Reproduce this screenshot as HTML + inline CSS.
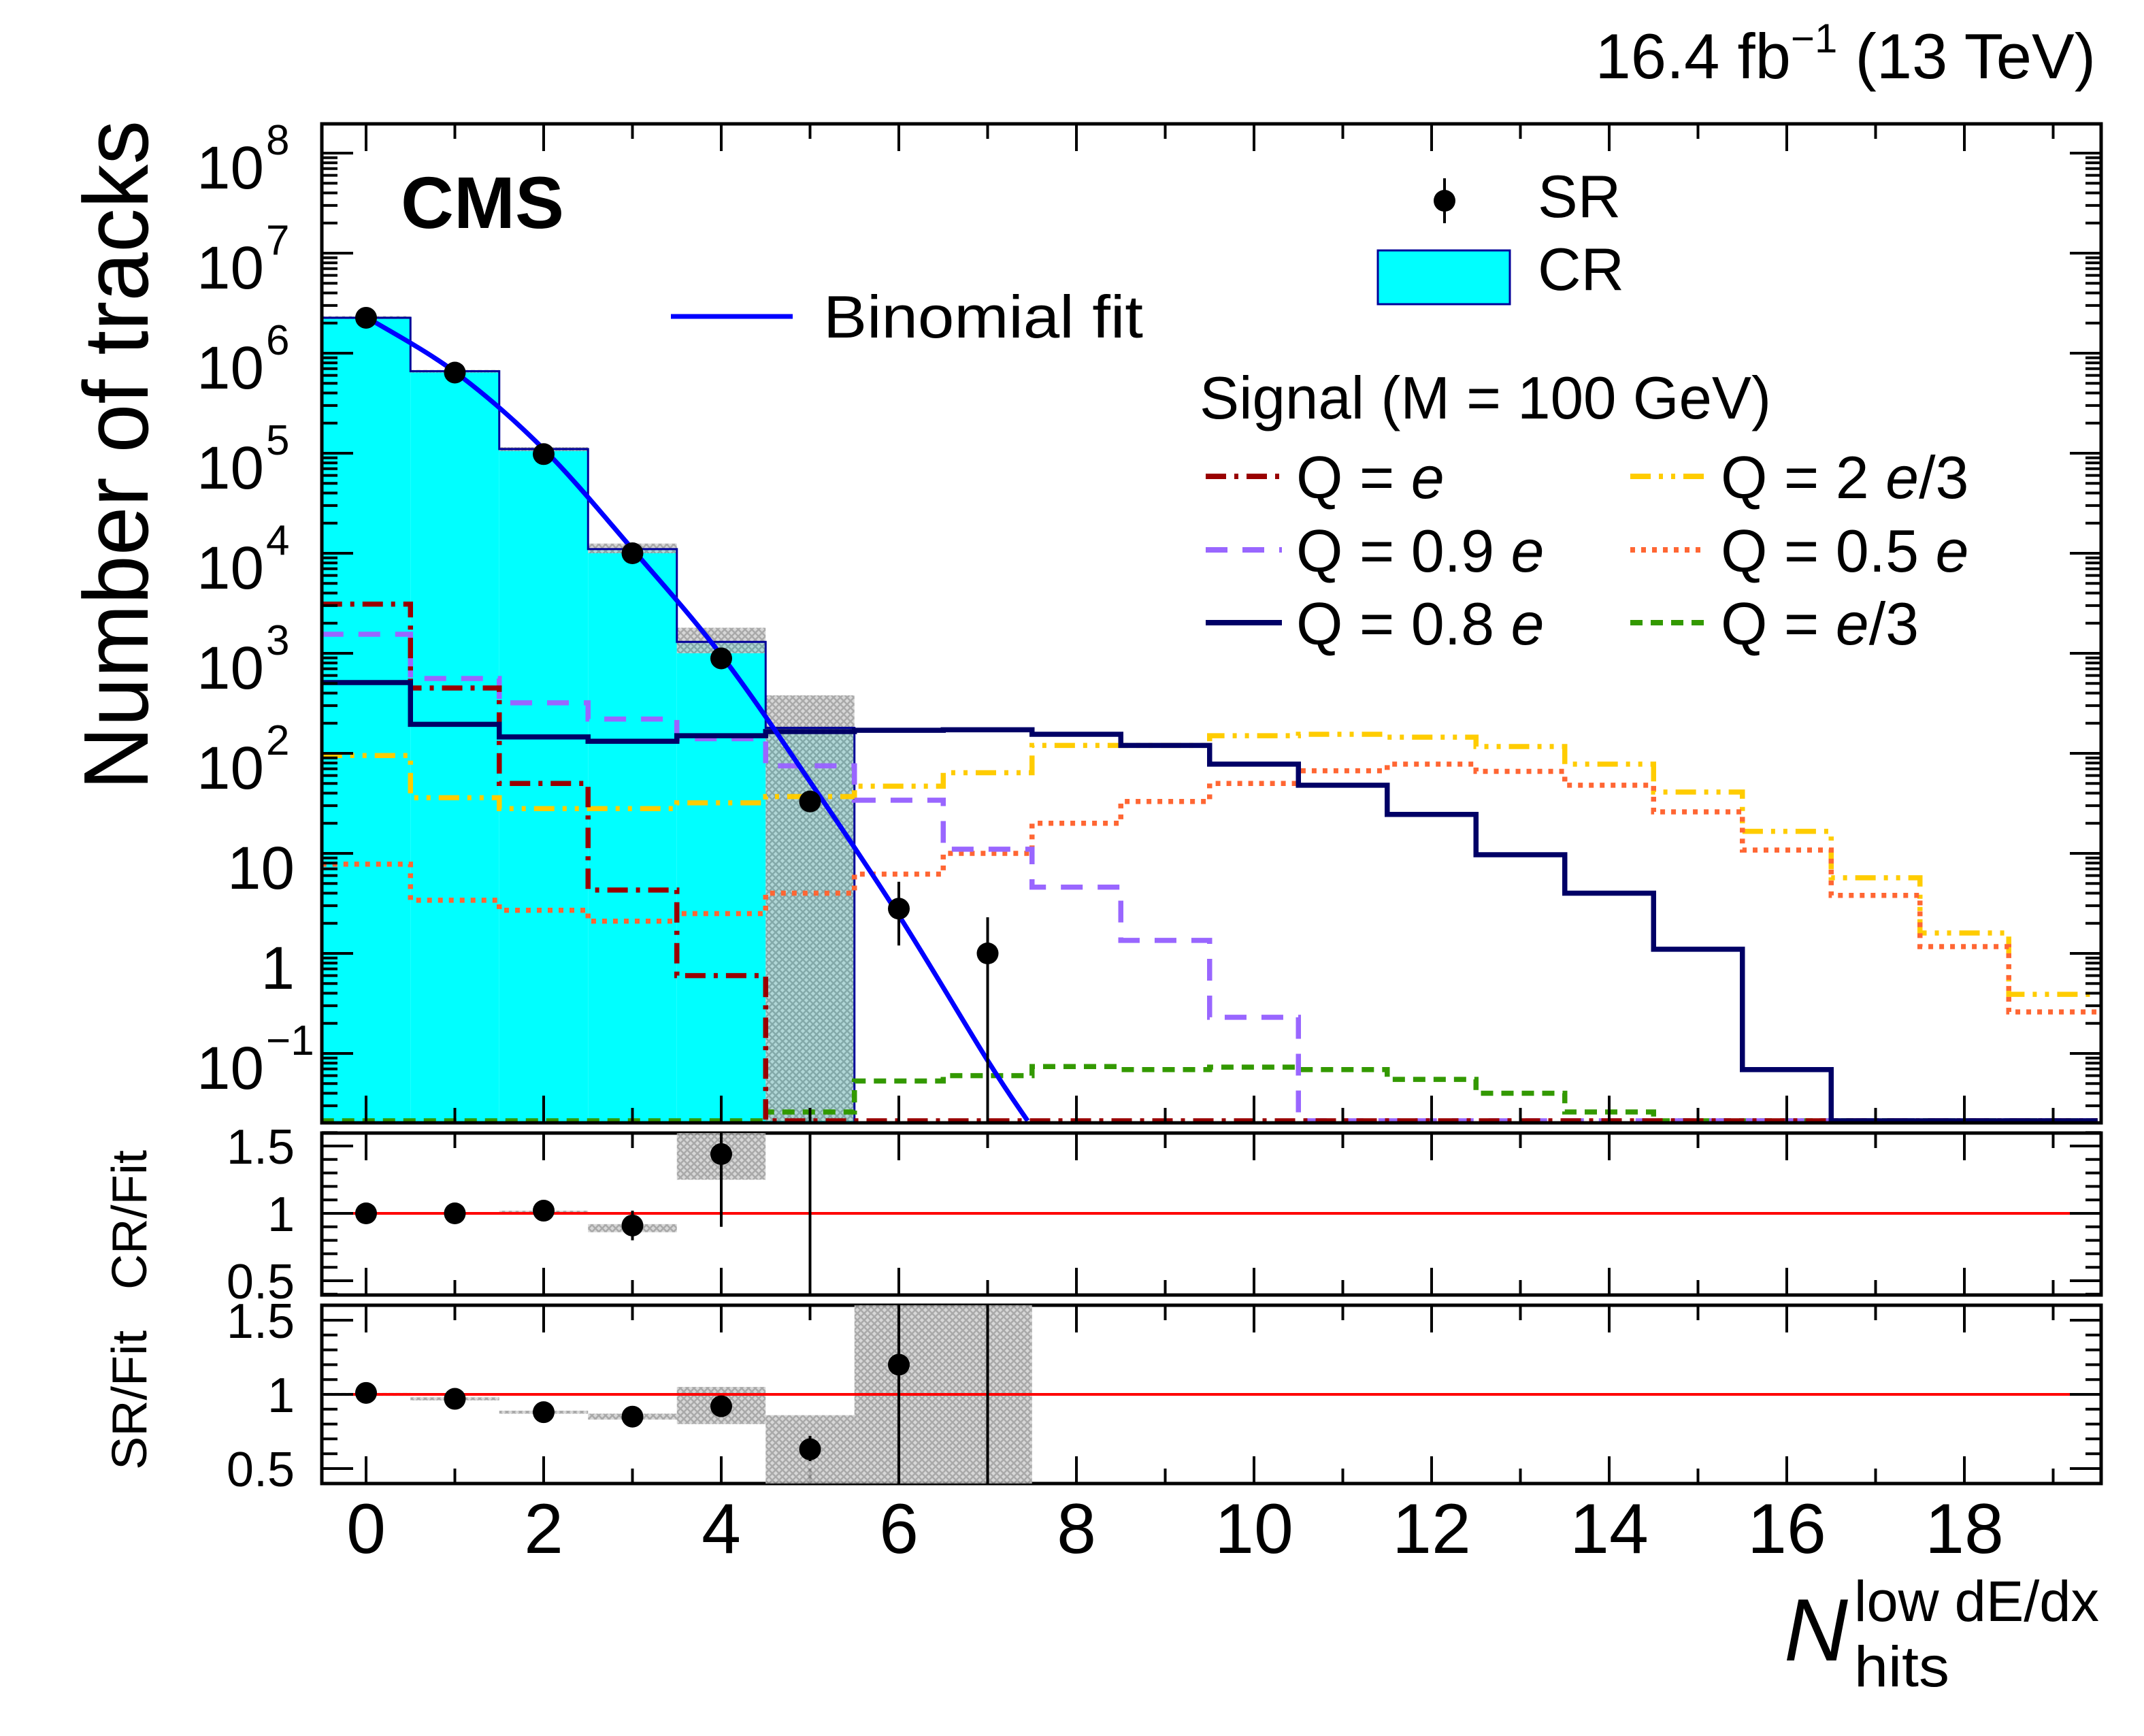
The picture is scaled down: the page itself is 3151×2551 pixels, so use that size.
<!DOCTYPE html>
<html><head><meta charset="utf-8"><style>
html,body{margin:0;padding:0;background:#fff;}
svg{display:block;font-family:"Liberation Sans",sans-serif;}
</style></head><body>
<svg id="chart" xmlns="http://www.w3.org/2000/svg" width="3151" height="2551" viewBox="0 0 3151 2551">
<defs>
<pattern id="hatch" width="10" height="10" patternUnits="userSpaceOnUse">
<rect width="10" height="10" fill="#d0d0d0"/>
<path d="M0,0 L10,10 M10,0 L0,10" stroke="#9a9a9a" stroke-width="2.5"/>
</pattern>
<clipPath id="clipMain"><rect x="473" y="182" width="2615" height="1468"/></clipPath>
<clipPath id="clipR1"><rect x="473" y="1665" width="2615" height="238"/></clipPath>
<clipPath id="clipR2"><rect x="473" y="1918" width="2615" height="262"/></clipPath>
</defs>
<g id="main"></g>
<g id="r1"></g>
<g id="r2"></g>
<g id="labels">
<text x="3080" y="115" font-size="94" text-anchor="end">16.4 fb<tspan font-size="60" dy="-38">−1</tspan><tspan dy="38"> (13 TeV)</tspan></text>
<text x="589" y="335" font-size="108" font-weight="bold">CMS</text>
<text transform="translate(217,1161) rotate(-90)" font-size="135" textLength="984" lengthAdjust="spacingAndGlyphs">Number of tracks</text>
<text transform="translate(215,1895) rotate(-90)" font-size="72" textLength="205" lengthAdjust="spacingAndGlyphs">CR/Fit</text>
<text transform="translate(215,2160) rotate(-90)" font-size="72" textLength="205" lengthAdjust="spacingAndGlyphs">SR/Fit</text>
<text x="2622" y="2440" font-size="130" font-style="italic">N</text>
<text x="2725" y="2382" font-size="84" textLength="360" lengthAdjust="spacingAndGlyphs">low dE/dx</text>
<text x="2725" y="2478" font-size="84" textLength="140" lengthAdjust="spacingAndGlyphs">hits</text>
</g>
<g id="legend">
<line x1="986" y1="465" x2="1165" y2="465" stroke="#0000ff" stroke-width="7"/>
<text x="1210" y="496" font-size="88" textLength="470" lengthAdjust="spacingAndGlyphs">Binomial fit</text>
<line x1="2123" y1="262" x2="2123" y2="328" stroke="#000" stroke-width="4"/>
<circle cx="2123" cy="295" r="16" fill="#000"/>
<text x="2260" y="319" font-size="88">SR</text>
<rect x="2025" y="368" width="194" height="79" fill="#00ffff" stroke="#000099" stroke-width="3"/>
<text x="2260" y="426" font-size="88">CR</text>
<text x="1763" y="615" font-size="88" textLength="840" lengthAdjust="spacingAndGlyphs">Signal (M = 100 GeV)</text>
</g>
</svg>
<script>
// ---- data ----
const bins = [0,1,2,3,4,5,6,7,8,9,10,11,12,13,14,15,16,17,18,19];
const crValues = [2.26e6, 6.6e5, 1.1e5, 1.1e4, 1.3e3, 180];
const crUncLow = [2.2e6, 6.4e5, 1.05e5, 1.0e4, 1.0e3, 0.001];
const crUncHigh = [2.35e6, 6.8e5, 1.15e5, 1.25e4, 1.8e3, 380];
const srValues = [2.26e6, 6.4e5, 9.8e4, 1.0e4, 890, 33, 2.8, 1];
const srErrLow = [2.25e6, 6.38e5, 9.7e4, 9.9e3, 860, 27, 1.2, 0.001];
const srErrHigh = [2.27e6, 6.42e5, 9.9e4, 1.01e4, 920, 39, 5.2, 2.3];
const fitX = [0, 1, 2, 3, 4, 5, 6, 7, 7.45];
const fitY = [2.3e6, 6.5e5, 1.1e5, 1.1e4, 960, 52, 2.4, 0.085, 0.02];
const sigE     = [3100, 450, 50, 4.3, 0.6, 0,0,0,0,0,0,0,0,0,0,0,0,0,0,0];
const sig09    = [1550, 560, 320, 220, 140, 75, 34, 11, 4.6, 1.35, 0.23, 0,0,0,0,0,0,0,0,0];
const sig08    = [510, 195, 146, 132, 150, 165, 170, 172, 155, 120, 78, 48, 24.5, 9.7, 4.0, 1.1, 0.069, 0,0,0];
const sig23    = [95, 36, 28, 28, 32, 37, 47, 64, 120, 120, 150, 155, 145, 117, 78, 41, 16.6, 5.7, 1.6, 0.39];
const sig05    = [7.8, 3.4, 2.7, 2.1, 2.5, 4.0, 6.2, 10, 20, 33, 50, 67, 78, 66, 48, 26, 10.8, 3.8, 1.17, 0.26];
const sigE3    = [0,0,0,0,0, 0.026, 0.053, 0.06, 0.074, 0.069, 0.073, 0.069, 0.055, 0.04, 0.026, 0,0,0,0,0];
const crRatio = [1.0, 1.0, 1.02, 0.91, 1.44, 3.5];
const crRatioErrLo = [0.99, 0.99, 1.0, 0.8, 0.9, 0.0];
const crRatioErrHi = [1.01, 1.01, 1.04, 1.02, 1.7, 6.0];
const crRatioBandLo = [0.99, 0.99, 1.0, 0.86, 1.25];
const crRatioBandHi = [1.01, 1.01, 1.02, 0.92, 1.62];
const srRatio = [1.01, 0.97, 0.88, 0.85, 0.92, 0.63, 1.2, 12];
const srRatioErrLo = [1.0, 0.96, 0.87, 0.83, 0.89, 0.55, 0.0, 0.0];
const srRatioErrHi = [1.02, 0.98, 0.89, 0.87, 0.95, 0.72, 3.0, 30];
const srRatioBandLo = [0.99, 0.96, 0.87, 0.83, 0.8, 0.3, 0.3, 0.3];
const srRatioBandHi = [1.01, 0.98, 0.89, 0.87, 1.05, 0.86, 1.7, 1.7];
const yDecades = [-1,0,1,2,3,4,5,6,7,8];
const xTickLabels = ["0","2","4","6","8","10","12","14","16","18"];
const ratioTicks = [0.5, 1, 1.5];

// ---- axes ----
const X = v => 538 + v*130.5;
const YMIN = 1650, YTOP = 182;
const Y = v => { if (v <= 0) return YMIN - 3; const y = 225 + (8 - Math.log10(v))*147; return Math.min(y, YMIN - 3); };
const R1 = v => 1783 - (v-1)*198;
const R2 = v => 2049 - (v-1)*218;
const NS = "http://www.w3.org/2000/svg";
function mk(tag, attrs, parent) {
  const e = document.createElementNS(NS, tag);
  for (const k in attrs) e.setAttribute(k, attrs[k]);
  parent.appendChild(e); return e;
}
const main = document.getElementById('main');
const r1 = document.getElementById('r1');
const r2 = document.getElementById('r2');
const gMain = mk('g', {'clip-path':'url(#clipMain)'}, main);



crValues.forEach((v,i) => {
  const r = mk('rect', {x: X(i-0.5), y: Y(v), width: 130.5, height: YMIN - Y(v), fill:'#00ffff'}, gMain);
  
  
});
crValues.forEach((v,i) => {
  const lo = Y(crUncLow[i]), hi = Y(crUncHigh[i]);
  const r = mk('rect', {x: X(i-0.5), y: hi, width: 130.5, height: Math.max(lo-hi,4), fill:'url(#hatch)', opacity:0.85}, gMain);
  
  
});
(function(){
  let d = 'M' + X(-0.5) + ',' + YMIN;
  crValues.forEach((v,i) => { d += ' V' + Y(v) + ' H' + X(i+0.5); });
  d += ' V' + YMIN;
  const p = mk('path', {d: d, fill:'none', stroke:'#000099', 'stroke-width':3}, gMain);
  
  
})();

function stepPath(vals) {
  let d = '';
  vals.forEach((v,i) => {
    const y = Y(v);
    if (i === 0) d += 'M' + X(-0.5) + ',' + y; else d += ' V' + y;
    d += ' H' + X(i+0.5);
  });
  return d;
}
const series = [
  {vals: sig23, color:'#ffcc00', dash:'30,12,6,12,6,12', name:'signal-q-2e3'},
  {vals: sig05, color:'#ff6633', dash:'7,9', name:'signal-q-05e'},
  {vals: sigE3, color:'#339900', dash:'18,12', name:'signal-q-e3'},
  {vals: sig09, color:'#9966ff', dash:'32,22', name:'signal-q-09e'},
  {vals: sigE,  color:'#990000', dash:'30,12,6,12', name:'signal-q-e'},
  {vals: sig08, color:'#000066', dash:'none', name:'signal-q-08e'}
];
series.forEach(s => {
  const p = mk('path', {d: stepPath(s.vals), fill:'none', stroke:s.color, 'stroke-width':7.5, 'stroke-dasharray':s.dash}, gMain);
  
  
});

(function(){
  const pts = fitX.map((x,i) => [X(x), Y(fitY[i])]);
  let d = 'M' + pts[0][0] + ',' + pts[0][1];
  for (let i = 0; i < pts.length-1; i++) {
    const p0 = pts[Math.max(i-1,0)], p1 = pts[i], p2 = pts[i+1], p3 = pts[Math.min(i+2,pts.length-1)];
    const c1 = [p1[0]+(p2[0]-p0[0])/6, p1[1]+(p2[1]-p0[1])/6];
    const c2 = [p2[0]-(p3[0]-p1[0])/6, p2[1]-(p3[1]-p1[1])/6];
    d += ' C' + c1 + ' ' + c2 + ' ' + p2;
  }
  const p = mk('path', {d: d, fill:'none', stroke:'#0000ff', 'stroke-width':7}, gMain);
  
  
})();

srValues.forEach((v,i) => {
  const l = mk('line', {x1:X(i), x2:X(i), y1:Y(srErrHigh[i]), y2:Y(srErrLow[i]), stroke:'#000', 'stroke-width':4}, gMain);
  
  
  const c = mk('circle', {cx:X(i), cy:Y(v), r:16, fill:'#000'}, gMain);
  
  
});

function frame(parent, y0, y1, name) {
  const r = mk('rect', {x:473, y:y0, width:2615, height:y1-y0, fill:'none', stroke:'#000', 'stroke-width':5}, parent);
  
  
  for (let k = 0; k <= 19; k++) {
    const len = (k % 2 === 0) ? 40 : 22;
    const t1 = mk('line', {x1:X(k), x2:X(k), y1:y1, y2:y1-len, stroke:'#000', 'stroke-width':4}, parent);
    
    
    const t2 = mk('line', {x1:X(k), x2:X(k), y1:y0, y2:y0+len, stroke:'#000', 'stroke-width':4}, parent);
    
    
  }
}
frame(main, YTOP, YMIN, 'main-frame');
frame(r1, 1665, 1903, 'cr-frame');
frame(r2, 1918, 2180, 'sr-frame');

for (let k = -2; k <= 8; k++) {
  for (let m = 1; m <= 9; m++) {
    const v = m * Math.pow(10,k);
    const y = 225 + (8 - Math.log10(v))*147;
    if (y < YTOP || y > YMIN) continue;
    const len = m === 1 ? 46 : 23;
    [[473, 473+len],[3088, 3088-len]].forEach(([a,b]) => {
      const t = mk('line', {x1:a, x2:b, y1:y, y2:y, stroke:'#000', 'stroke-width':4}, main);
      
      
    });
  }
}
yDecades.forEach(k => {
  const y = Y(Math.pow(10,k));
  const t = mk('text', {x: 433, y: y+52, 'font-size': 89, 'text-anchor':'end'}, main);
  
  
  if (k === 0) { t.textContent = '1'; }
  else if (k === 1) { t.textContent = '10'; }
  else {
    t.setAttribute('x', 388);
    t.textContent = '10';
    const s = mk('text', {x: 391, y: y+2, 'font-size': 62}, main);
    
    
    s.textContent = k < 0 ? '−1' : String(k);
  }
});

function ratioPanel(parent, R, clip, vals, eLo, eHi, bLo, bHi, pre) {
  const g = mk('g', {'clip-path':'url(#' + clip + ')'}, parent);
  
  
  bLo.forEach((lo,i) => {
    const r = mk('rect', {x:X(i-0.5), y:R(bHi[i]), width:130.5, height:Math.max(R(lo)-R(bHi[i]),4), fill:'url(#hatch)', opacity:0.85}, g);
    
    
  });
  const ln = mk('line', {x1:473, x2:3088, y1:R(1), y2:R(1), stroke:'#ff0000', 'stroke-width':4}, g);
  
  
  vals.forEach((v,i) => {
    const l = mk('line', {x1:X(i), x2:X(i), y1:R(eHi[i]), y2:R(eLo[i]), stroke:'#000', 'stroke-width':4}, g);
    
    
    const c = mk('circle', {cx:X(i), cy:R(v), r:16, fill:'#000'}, g);
    
    
  });
  for (let v = 0.4; v <= 1.61; v += 0.1) {
    const vv = Math.round(v*10)/10;
    const major = Math.abs(vv*2 - Math.round(vv*2)) < 1e-6;
    const len = major ? 46 : 23;
    [[473,473+len],[3088,3088-len]].forEach(([a,b]) => {
      const t = mk('line', {x1:a, x2:b, y1:R(vv), y2:R(vv), stroke:'#000', 'stroke-width':4}, parent);
      
      
    });
  }
  ratioTicks.forEach(v => {
    const t = mk('text', {x:433, y:R(v)+26, 'font-size':72, 'text-anchor':'end'}, parent);
    
    
    t.textContent = String(v);
  });
}
ratioPanel(r1, R1, 'clipR1', crRatio, crRatioErrLo, crRatioErrHi, crRatioBandLo, crRatioBandHi, 'cr-fit');
ratioPanel(r2, R2, 'clipR2', srRatio, srRatioErrLo, srRatioErrHi, srRatioBandLo, srRatioBandHi, 'sr-fit');

xTickLabels.forEach(s => {
  const t = mk('text', {x: X(+s), y: 2282, 'font-size': 104, 'text-anchor':'middle'}, r2);
  
  
  t.textContent = s;
});

const legend = document.getElementById('legend');
const legEntries = [
  {label:'Q = ', it:'e', tail:'', color:'#990000', dash:'30,12,6,12', x:1772, y:700},
  {label:'Q = 0.9 ', it:'e', tail:'', color:'#9966ff', dash:'32,22', x:1772, y:808},
  {label:'Q = 0.8 ', it:'e', tail:'', color:'#000066', dash:'none', x:1772, y:915},
  {label:'Q = 2 ', it:'e', tail:'/3', color:'#ffcc00', dash:'30,12,6,12,6,12', x:2396, y:700},
  {label:'Q = 0.5 ', it:'e', tail:'', color:'#ff6633', dash:'7,9', x:2396, y:808},
  {label:'Q = ', it:'e', tail:'/3', color:'#339900', dash:'18,12', x:2396, y:915}
];
legEntries.forEach(e => {
  const l = mk('line', {x1:e.x, x2:e.x+112, y1:e.y, y2:e.y, stroke:e.color, 'stroke-width':8, 'stroke-dasharray':e.dash}, legend);
  
  
  const t = mk('text', {x:e.x+133, y:e.y+32, 'font-size':88}, legend);
  
  
  t.appendChild(document.createTextNode(e.label));
  const it = mk('tspan', {'font-style':'italic'}, t);
  it.textContent = e.it;
  if (e.tail) t.appendChild(document.createTextNode(e.tail));
});
</script>
</body></html>
